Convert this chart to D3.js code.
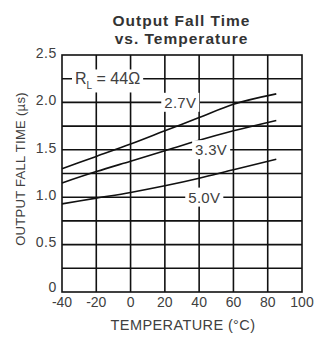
<!DOCTYPE html>
<html>
<head>
<meta charset="utf-8">
<script src="https://cdn.jsdelivr.net/npm/d3@7"></script>
<style>
  body { margin: 0; background: #fff; }
  text { font-family: "Liberation Sans", Arial, sans-serif; fill: #404040; }
</style>
</head>
<body>
<div id="chart"></div>
<script>
// values
const temps = [-40, -20, 0, 20, 40, 60, 85];
const v27 = [1.30, 1.43, 1.56, 1.70, 1.84, 1.98, 2.09];
const v33 = [1.15, 1.27, 1.38, 1.49, 1.60, 1.70, 1.81];
const v50 = [0.93, 0.99, 1.05, 1.12, 1.20, 1.29, 1.40];
const xTicks = [-40, -20, 0, 20, 40, 60, 80, 100];
const yTicks = [0, 0.5, 1.0, 1.5, 2.0, 2.5];
const yGrid = [0.25, 0.5, 0.75, 1.0, 1.25, 1.5, 1.75, 2.0, 2.25];
const seriesNames = ["2.7V", "3.3V", "5.0V"];
// label anchors (temperature, value) for the series names
const labelAt = [[29, 2.0], [47, 1.5], [43, 1.0]];

const W = 314, H = 337;
const svg = d3.select("#chart").append("svg")
    .attr("width", W).attr("height", H);

const x = d3.scaleLinear().domain([-40, 100]).range([62, 302]);
const y = d3.scaleLinear().domain([0, 2.5]).range([292, 55]);

// title
svg.append("text").attr("x", 181.5).attr("y", 26)
    .attr("text-anchor", "middle").style("font-size", "15.5px").style("font-weight", "bold")
    .style("letter-spacing", "1px").style("fill", "#333")
    .text("Output Fall Time");
svg.append("text").attr("x", 181.5).attr("y", 44)
    .attr("text-anchor", "middle").style("font-size", "15.5px").style("font-weight", "bold")
    .style("letter-spacing", "1px").style("fill", "#333")
    .text("vs. Temperature");

const grid = svg.append("g").attr("stroke", "#111").attr("stroke-width", 1.6);

// horizontal grid
grid.selectAll(".hg").data(yGrid).enter().append("line")
    .attr("x1", x(-40)).attr("x2", x(100))
    .attr("y1", d => y(d)).attr("y2", d => y(d));

// vertical grid
grid.selectAll(".vg").data(xTicks.slice(1, -1)).enter().append("line")
    .attr("x1", d => x(d)).attr("x2", d => x(d))
    .attr("y1", y(0)).attr("y2", y(2.5));

// frame
grid.append("rect")
    .attr("x", x(-40)).attr("y", y(2.5))
    .attr("width", x(100) - x(-40)).attr("height", y(0) - y(2.5))
    .attr("fill", "none");

// curves
const line = d3.line()
    .x((d, i) => x(temps[i]))
    .y(d => y(d))
    .curve(d3.curveMonotoneX);

svg.selectAll(".curve").data([v27, v33, v50]).enter().append("path")
    .attr("d", d => line(d))
    .attr("fill", "none").attr("stroke", "#111").attr("stroke-width", 1.6);

// labels with white boxes that break the grid
function boxedLabel(g, pad) {
    const b = g.node().getBBox();
    g.insert("rect", ":first-child")
        .attr("x", b.x - pad).attr("y", b.y - 1)
        .attr("width", b.width + pad * 2).attr("height", b.height + 2)
        .attr("fill", "#fff");
}

seriesNames.forEach((name, i) => {
    const g = svg.append("g");
    g.append("text")
        .attr("x", x(labelAt[i][0])).attr("y", y(labelAt[i][1]))
        .attr("dy", "0.36em").attr("text-anchor", "middle")
        .style("font-size", "15px").style("letter-spacing", "0.3px")
        .text(name);
    boxedLabel(g, 3);
});

// R_L = 44 ohm
const rl = svg.append("g");
const rlText = rl.append("text")
    .attr("x", 75).attr("y", y(2.25)).attr("dy", "0.36em")
    .style("font-size", "16px");
rlText.append("tspan").text("R");
rlText.append("tspan").attr("dy", "5").style("font-size", "10px").text("L");
rlText.append("tspan").attr("dy", "-5").text(" = 44Ω");
boxedLabel(rl, 3);

// tick labels
svg.selectAll(".xt").data(xTicks).enter().append("text")
    .attr("x", d => x(d)).attr("y", 307)
    .attr("text-anchor", "middle").style("font-size", "14px")
    .text(d => d);

svg.selectAll(".yt").data(yTicks).enter().append("text")
    .attr("x", 57).attr("y", d => y(d) - (d === 0 ? 3 : 0)).attr("dy", "0.2em")
    .attr("text-anchor", "end").style("font-size", "14px").style("letter-spacing", "0.6px")
    .text(d => d === 0 ? "0" : d3.format(".1f")(d));

// axis titles
svg.append("text").attr("x", 183).attr("y", 330)
    .attr("text-anchor", "middle").style("font-size", "14.5px").style("letter-spacing", "0.4px")
    .text("TEMPERATURE (°C)");

svg.append("text")
    .attr("transform", "translate(25,169) rotate(-90)")
    .attr("text-anchor", "middle").style("font-size", "13px").style("letter-spacing", "0.3px")
    .text("OUTPUT FALL TIME (µs)");
</script>
</body>
</html>
